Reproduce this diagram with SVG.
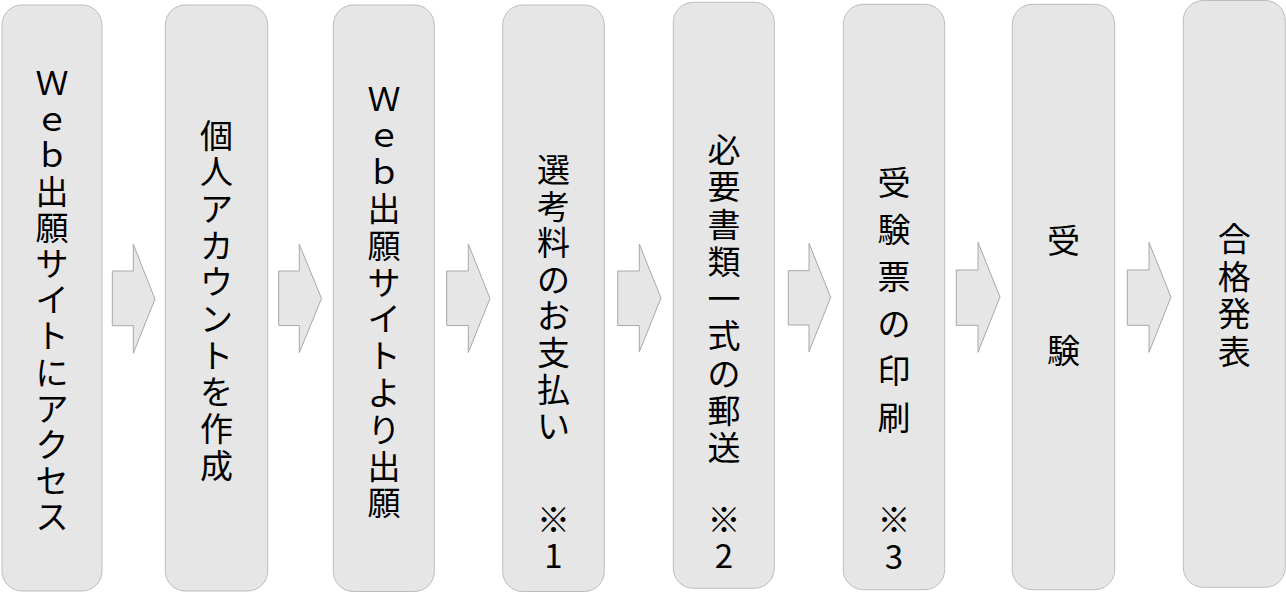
<svg xmlns="http://www.w3.org/2000/svg" width="1286" height="593" viewBox="0 0 1286 593">
<style>
.box{fill:#e6e6e6;stroke:#bdbdbd;stroke-width:1}
.arr{fill:#e6e6e6;stroke:#a8a8a8;stroke-width:1;stroke-linejoin:miter}
.t{font-family:"Noto Sans CJK JP","Noto Sans",sans-serif;font-size:33px;fill:#000;text-anchor:middle}
</style>
<rect width="1286" height="593" fill="#ffffff"/>
<g id="connectors">
<polygon class="arr" points="112.3,271 133.3,271 133.3,244.3 155,299 133.3,353.3 133.3,325.7 112.3,325.7"/>
<polygon class="arr" points="278.7,271 299.3,271 299.3,244.3 321.5,298.5 299.3,352.7 299.3,325.5 278.7,325.5"/>
<polygon class="arr" points="446.7,271 468.3,271 468.3,244 490,298.5 468.3,352.5 468.3,325.5 446.7,325.5"/>
<polygon class="arr" points="617.7,271 639.3,271 639.3,244 661,298 639.3,352 639.3,325.5 617.7,325.5"/>
<polygon class="arr" points="788.3,270.7 809,270.7 809,243.3 830.7,297.3 809,351.7 809,325 788.3,325"/>
<polygon class="arr" points="956.3,270 978,270 978,242.3 1000,297 978,352.3 978,325.3 956.3,325.3"/>
<polygon class="arr" points="1127.3,270 1149,270 1149,242.3 1171,297 1149,352.3 1149,325.3 1127.3,325.3"/>
</g>
<g id="n1">
<rect class="box" x="2" y="5" width="100" height="586" rx="20"/>
<text class="t"><tspan x="52" y="95">Ｗ</tspan><tspan x="52" y="131.2">ｅ</tspan><tspan x="52" y="167.4">ｂ</tspan><tspan x="52" y="203.6">出</tspan><tspan x="52" y="239.8">願</tspan><tspan x="52" y="276">サ</tspan><tspan x="52" y="312.2">イ</tspan><tspan x="52" y="348.4">ト</tspan><tspan x="52" y="384.6">に</tspan><tspan x="52" y="420.8">ア</tspan><tspan x="52" y="457">ク</tspan><tspan x="52" y="493.2">セ</tspan><tspan x="52" y="529.4">ス</tspan></text>
</g>
<g id="n2">
<rect class="box" x="165.3" y="5" width="102.4" height="586" rx="20"/>
<text class="t"><tspan x="216.5" y="147.5">個</tspan><tspan x="216.5" y="184.2">人</tspan><tspan x="216.5" y="220.9">ア</tspan><tspan x="216.5" y="257.6">カ</tspan><tspan x="216.5" y="294.3">ウ</tspan><tspan x="216.5" y="331">ン</tspan><tspan x="216.5" y="367.7">ト</tspan><tspan x="216.5" y="404.4">を</tspan><tspan x="216.5" y="441.1">作</tspan><tspan x="216.5" y="477.8">成</tspan></text>
</g>
<g id="n3">
<rect class="box" x="333.3" y="5" width="101" height="586.5" rx="20"/>
<text class="t"><tspan x="384" y="110.5">Ｗ</tspan><tspan x="384" y="147.3">ｅ</tspan><tspan x="384" y="184.1">ｂ</tspan><tspan x="384" y="220.9">出</tspan><tspan x="384" y="257.7">願</tspan><tspan x="384" y="294.5">サ</tspan><tspan x="384" y="331.3">イ</tspan><tspan x="384" y="368.1">ト</tspan><tspan x="384" y="404.9">よ</tspan><tspan x="384" y="441.7">り</tspan><tspan x="384" y="478.5">出</tspan><tspan x="384" y="515.3">願</tspan></text>
</g>
<g id="n4">
<rect class="box" x="502.7" y="5" width="101.6" height="586.5" rx="20"/>
<text class="t"><tspan x="553.5" y="182">選</tspan><tspan x="553.5" y="218.6">考</tspan><tspan x="553.5" y="255.2">料</tspan><tspan x="553.5" y="291.8">の</tspan><tspan x="553.5" y="328.4">お</tspan><tspan x="553.5" y="365">支</tspan><tspan x="553.5" y="401.6">払</tspan><tspan x="553.5" y="438.2">い</tspan><tspan x="553.5" y="531.5">※</tspan><tspan x="553.5" y="568">1</tspan></text>
</g>
<g id="n5">
<rect class="box" x="673.3" y="2.3" width="101" height="586" rx="20"/>
<text class="t"><tspan x="724" y="162">必</tspan><tspan x="724" y="199.3">要</tspan><tspan x="724" y="236.5">書</tspan><tspan x="724" y="273.8">類</tspan><tspan x="724" y="311">一</tspan><tspan x="724" y="348.3">式</tspan><tspan x="724" y="385.5">の</tspan><tspan x="724" y="422.8">郵</tspan><tspan x="724" y="460">送</tspan><tspan x="724" y="531.5">※</tspan><tspan x="724" y="568">2</tspan></text>
</g>
<g id="n6">
<rect class="box" x="843.3" y="4.3" width="101.4" height="585.4" rx="20"/>
<text class="t"><tspan x="894" y="195">受</tspan><tspan x="894" y="242">験</tspan><tspan x="894" y="289">票</tspan><tspan x="894" y="336">の</tspan><tspan x="894" y="383">印</tspan><tspan x="894" y="430">刷</tspan><tspan x="894" y="531.5">※</tspan><tspan x="894" y="569">3</tspan></text>
</g>
<g id="n7">
<rect class="box" x="1012.3" y="4.3" width="102.4" height="585.4" rx="20"/>
<text class="t"><tspan x="1063.5" y="253">受</tspan><tspan x="1063.5" y="363">験</tspan></text>
</g>
<g id="n8">
<rect class="box" x="1183.3" y="0.5" width="102" height="586.8" rx="20"/>
<text class="t"><tspan x="1234.3" y="251">合</tspan><tspan x="1234.3" y="288.7">格</tspan><tspan x="1234.3" y="326.4">発</tspan><tspan x="1234.3" y="364.1">表</tspan></text>
</g>
</svg>
